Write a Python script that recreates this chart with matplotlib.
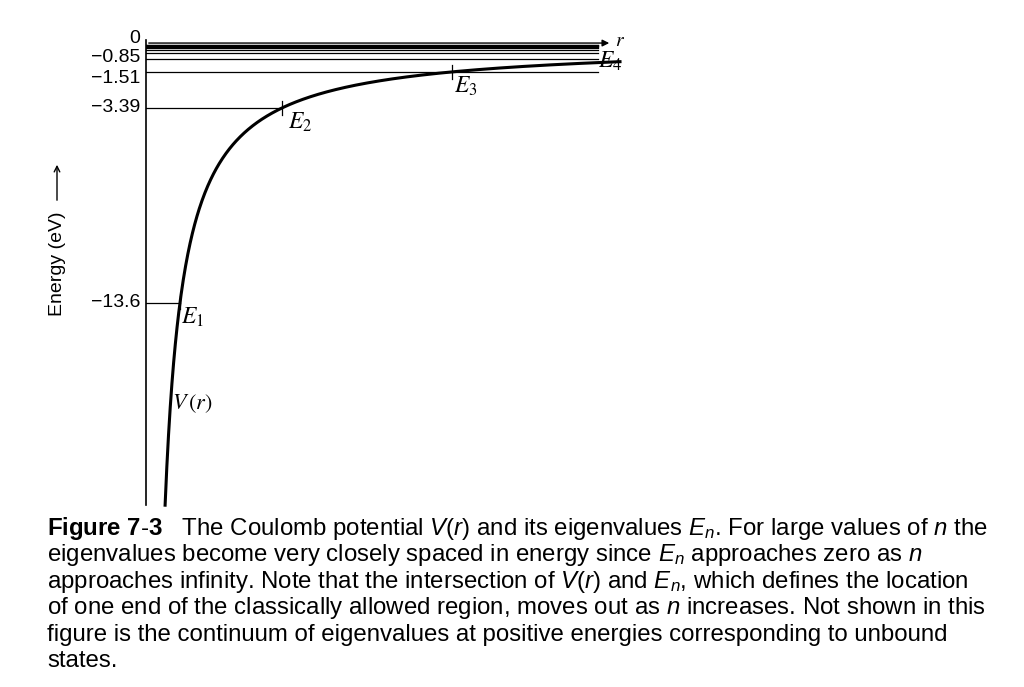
import numpy as np
import matplotlib.pyplot as plt
import matplotlib.transforms as mtransforms

plt.rcParams["font.family"] = ["Liberation Sans", "DejaVu Sans"]
plt.rcParams["mathtext.fontset"] = "custom"
plt.rcParams["mathtext.rm"] = "Liberation Sans"
plt.rcParams["mathtext.it"] = "Liberation Sans:italic"
plt.rcParams["mathtext.bf"] = "Liberation Sans:bold"

# data
levels_n = list(range(1, 13))
energies = [-13.6 / n**2 for n in levels_n]
tick_vals = [0, -0.85, -1.51, -3.39, -13.6]
tick_labels = ["0", "\u22120.85", "\u22121.51", "\u22123.39", "\u221213.6"]
label_shift = [0.25, 0.1, -0.35, 0, 0]  # small offsets so labels do not collide
r1 = 34.0  # radius (in plot units) where V(r) = E1

fig = plt.figure(figsize=(10.24, 6.87), dpi=100)
ax = fig.add_axes([146 / 1024, 1 - 505 / 687, (620 - 146) / 1024, (505 - 40) / 687])
ax.set_xlim(0, 474)
ax.set_ylim(-24.2, 0.16)

r = np.linspace(19.1, 474, 800)
V = -13.6 * r1 / r
ax.plot(r, V, color="black", lw=2.2, clip_on=False)

for n, E in zip(levels_n, energies):
    rc = r1 * n**2
    xend = rc if n <= 2 else 452
    ax.plot([0, xend], [E, E], color="black", lw=0.9)
    if n <= 3:
        ax.plot([rc, rc], [E - 0.35, E + 0.35], color="black", lw=0.9)

ax.annotate("", xy=(466, 0), xytext=(0, 0),
            arrowprops=dict(arrowstyle="-|>", color="black", lw=1.0))
ax.text(469, 0.1, "$r$", fontsize=14, va="center", math_fontfamily="stix")

ax.text(r1 + 1, -13.6 - 0.15, "$E_1$", fontsize=17, va="top", math_fontfamily="stix")
ax.text(4 * r1 + 6, -3.39 - 0.15, "$E_2$", fontsize=17, va="top", math_fontfamily="stix")
ax.text(9 * r1 + 2, -1.51 - 0.15, "$E_3$", fontsize=17, va="top", math_fontfamily="stix")
ax.text(452, -0.95, "$E_4$", fontsize=17, va="center", math_fontfamily="stix")
ax.text(r1 - 8, -19.2, "$V\\,(r)$", fontsize=16, math_fontfamily="stix")

trans = mtransforms.blended_transform_factory(ax.transAxes, ax.transData)
for v, lab, s in zip(tick_vals, tick_labels, label_shift):
    ax.text(-0.012, v + s, lab, transform=trans, ha="right", va="center", fontsize=14)

for s in ["top", "right", "bottom"]:
    ax.spines[s].set_visible(False)
ax.spines["left"].set_linewidth(1.2)
ax.set_xticks([])
ax.set_yticks([])

fig.text(57 / 1024, 1 - 264 / 687, "Energy (eV)", rotation=90,
         fontsize=14, ha="center", va="center")
ax.annotate("", xy=(57 / 1024, 1 - 162 / 687), xytext=(57 / 1024, 1 - 203 / 687),
            xycoords="figure fraction", textcoords="figure fraction",
            arrowprops=dict(arrowstyle="->", color="black", lw=1.0))

caption = [
    r"$\mathbf{Figure\ 7\text{-}3}$   The Coulomb potential $V(r)$ and its eigenvalues $E_n$. For large values of $n$ the",
    r"eigenvalues become very closely spaced in energy since $E_n$ approaches zero as $n$",
    r"approaches infinity. Note that the intersection of $V(r)$ and $E_n$, which defines the location",
    r"of one end of the classically allowed region, moves out as $n$ increases. Not shown in this",
    r"figure is the continuum of eigenvalues at positive energies corresponding to unbound",
    "states.",
]
for i, line in enumerate(caption):
    fig.text(47 / 1024, 1 - (529 + 26.4 * i) / 687, line, fontsize=17.3, va="center")

fig.savefig("out.png", dpi=100)
